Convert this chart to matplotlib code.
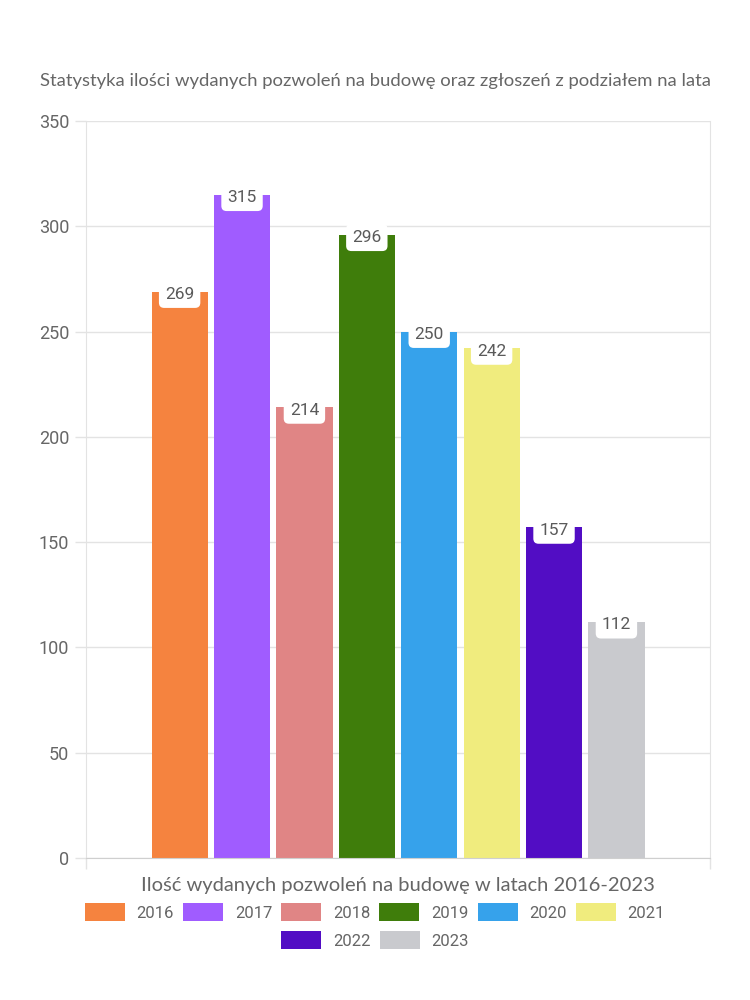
import matplotlib
matplotlib.use("Agg")
import matplotlib.pyplot as plt
from matplotlib.patches import Patch

years = ["2016", "2017", "2018", "2019", "2020", "2021", "2022", "2023"]
values = [269, 315, 214, 296, 250, 242, 157, 112]
colors = ["#F5833F", "#A05CFF", "#E08585", "#3F7D0B", "#36A2EB", "#F0EC7E", "#520DC4", "#C9CACE"]
yticks = [0, 50, 100, 150, 200, 250, 300, 350]
title = "Statystyka ilości wydanych pozwoleń na budowę oraz zgłoszeń z podziałem na lata"
xlabel = "Ilość wydanych pozwoleń na budowę w latach 2016-2023"

plt.rcParams['font.family'] = ['Lato', 'DejaVu Sans']
txt = "#666666"
grid = "#E3E3E3"
num_font = ['Roboto', 'DejaVu Sans']

fig = plt.figure(figsize=(7.5, 10), dpi=100)
ax = fig.add_axes([0.1147, 0.142, 0.832, 0.737])

xs = list(range(len(years)))
ax.bar(xs, values, width=0.9, color=colors, zorder=2)
for x, v in zip(xs, values):
    ax.annotate(str(v), (x, v), xytext=(0, -2), textcoords="offset points",
                ha="center", va="center", fontsize=12.5, color="#5a5a5a", zorder=3,
                family=num_font,
                bbox=dict(boxstyle="round,pad=0.35,rounding_size=0.3", fc="white", ec="none"))

ax.set_xlim(-1.5, 8.5)
ax.set_ylim(0, 350)
ax.set_yticks(yticks)
ax.set_yticklabels([str(t) for t in yticks], fontsize=13, color=txt, family=num_font)
ax.set_xticks([-1.5, 8.5])
ax.set_xticklabels(["", ""])
ax.tick_params(axis="both", length=8, color=grid, width=1)
ax.tick_params(axis="y", pad=4)
ax.yaxis.grid(True, color=grid, linewidth=1, zorder=0)
for s in ["left", "right", "top"]:
    ax.spines[s].set_color(grid)
ax.spines["top"].set_visible(False)
ax.spines["bottom"].set_color("#CFCFCF")

ax.set_xlabel(xlabel, fontsize=14.5, color=txt, labelpad=2)
fig.text(0.5, 0.919, title, ha="center", va="center", fontsize=13.3, color=txt)

handles = [Patch(facecolor=c, edgecolor="none") for c in colors]
legkw = dict(loc="center", frameon=False, prop={'family': num_font, 'size': 12},
             handlelength=2.4, handleheight=1.2, handletextpad=0.7,
             columnspacing=0.55, labelcolor=txt, borderaxespad=0, borderpad=0)
fig.legend(handles[:6], years[:6], bbox_to_anchor=(0.5, 0.088), ncol=6, **legkw)
fig.legend(handles[6:], years[6:], bbox_to_anchor=(0.5, 0.060), ncol=2, **legkw)

fig.savefig("out.png", dpi=100, facecolor="white")
